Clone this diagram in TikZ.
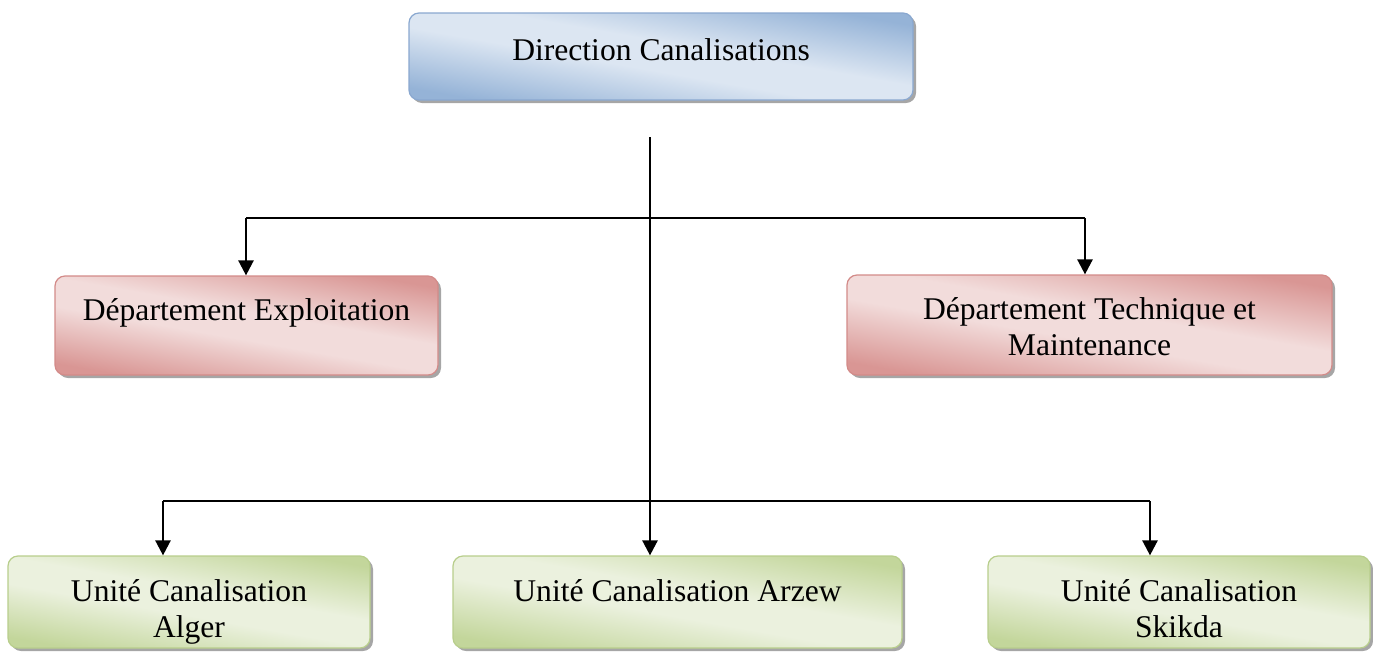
\documentclass[tikz,border=0pt]{standalone}
\usepackage{fontspec}
\setmainfont{Liberation Serif}
\usetikzlibrary{arrows.meta,shadows}
\definecolor{bluedark}{HTML}{95B3D7}
\definecolor{bluelight}{HTML}{DCE6F2}
\definecolor{blueline}{HTML}{8AA8D0}
\definecolor{reddark}{HTML}{D99694}
\definecolor{redlight}{HTML}{F2DCDB}
\definecolor{redline}{HTML}{D38B89}
\definecolor{greendark}{HTML}{C3D69B}
\definecolor{greenlight}{HTML}{EBF1DE}
\definecolor{greenline}{HTML}{B8CE8C}
\pgfdeclareverticalshading{bluefade}{100bp}{color(0bp)=(bluedark); color(25bp)=(bluedark);
  color(45bp)=(bluelight); color(55bp)=(bluelight); color(75bp)=(bluedark); color(100bp)=(bluedark)}
\pgfdeclareverticalshading{redfade}{100bp}{color(0bp)=(reddark); color(25bp)=(reddark);
  color(45bp)=(redlight); color(55bp)=(redlight); color(75bp)=(reddark); color(100bp)=(reddark)}
\pgfdeclareverticalshading{greenfade}{100bp}{color(0bp)=(greendark); color(25bp)=(greendark);
  color(45bp)=(greenlight); color(55bp)=(greenlight); color(75bp)=(greendark); color(100bp)=(greendark)}
\begin{document}
\begin{tikzpicture}[x=0.5pt, y=-0.5pt, font=\fontsize{15.8pt}{18pt}\selectfont, line join=round,
  line width=1.25pt, >={Triangle[length=7.5pt,width=7.5pt]},
  box/.style={draw, line width=0.6pt, rounded corners=5pt, inner sep=0pt,
    drop shadow={shadow xshift=1.5pt, shadow yshift=-1.5pt, fill=black, opacity=.35}},
  bluebox/.style={box, draw=blueline, shading=bluefade, shading angle=-10},
  redbox/.style={box, draw=redline, shading=redfade, shading angle=-10},
  greenbox/.style={box, draw=greenline, shading=greenfade, shading angle=-10},
  boxtext/.style={anchor=north, yshift=-11pt, align=center, inner sep=0pt}]
\useasboundingbox (0,0) rectangle (1373,654);
% boxes
\node[bluebox, minimum width=252pt, minimum height=43.5pt,
  label={[boxtext, yshift=-1.5pt]north:Direction Canalisations}] (dir) at (661,56.5) {};
\node[redbox, minimum width=191.5pt, minimum height=49.5pt,
  label={[boxtext]north:Département Exploitation}] (expl) at (246.5,325.5) {};
\node[redbox, minimum width=242.5pt, minimum height=50pt,
  label={[boxtext]north:Département Technique et\\Maintenance}] (tech) at (1089.5,325) {};
\node[greenbox, minimum width=181pt, minimum height=46pt,
  label={[boxtext, yshift=-0.5pt]north:Unité Canalisation\\Alger}] (alger) at (189,602) {};
\node[greenbox, minimum width=224.5pt, minimum height=46pt,
  label={[boxtext, yshift=-0.5pt]north:Unité Canalisation Arzew}] (arzew) at (677.5,602) {};
\node[greenbox, minimum width=191pt, minimum height=46pt,
  label={[boxtext, yshift=-0.5pt]north:Unité Canalisation\\Skikda}] (skikda) at (1179,602) {};
% connectors
\coordinate (top) at (650,137);
\coordinate (hl) at (246,218);
\coordinate (hr) at (1085,218);
\coordinate (bl) at (163,501);
\coordinate (br) at (1150,501);
\draw[->] (top) -- (top |- arzew.north);
\draw (hl) -- (hr);
\draw[->] (hl) -- (hl |- expl.north);
\draw[->] (hr) -- (hr |- tech.north);
\draw (bl) -- (br);
\draw[->] (bl) -- (bl |- alger.north);
\draw[->] (br) -- (br |- skikda.north);
\end{tikzpicture}
\end{document}
